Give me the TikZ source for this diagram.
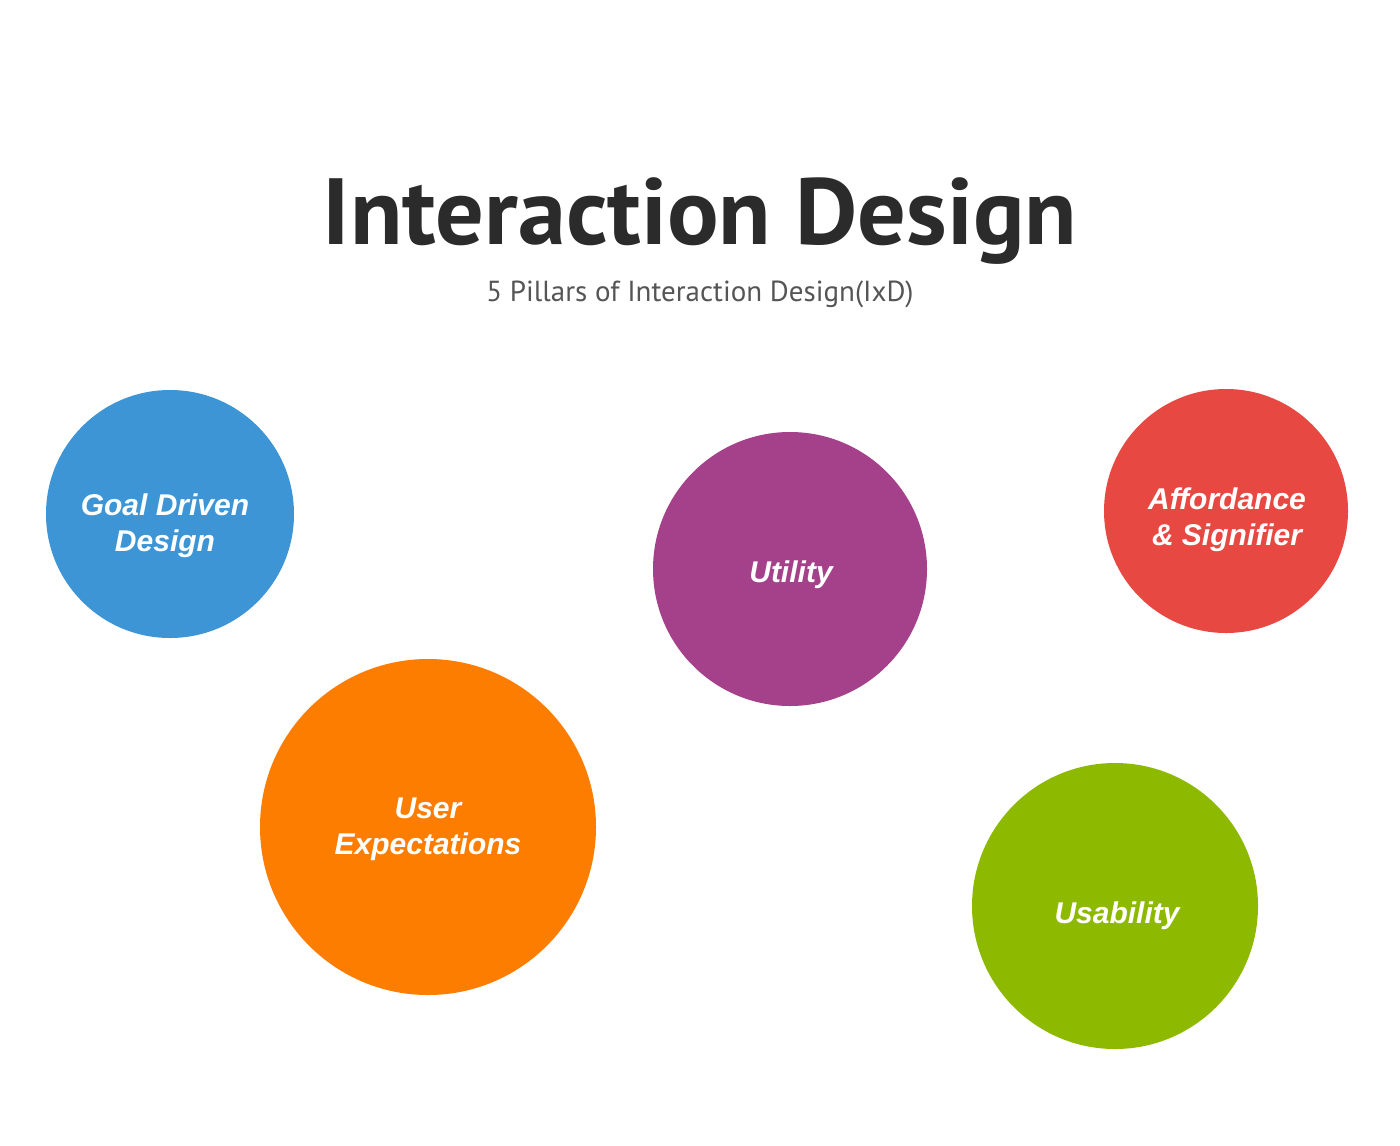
\documentclass[tikz,border=0pt]{standalone}
\usepackage{fontspec}
\setmainfont{Liberation Sans}
\newfontfamily\titlefont{PT Sans}
\definecolor{cblue}{HTML}{3D95D5}
\definecolor{corange}{HTML}{FC7D00}
\definecolor{cpurple}{HTML}{A5418A}
\definecolor{cred}{HTML}{E84842}
\definecolor{cgreen}{HTML}{8DB900}
\definecolor{ctitle}{HTML}{2B2B2B}
\definecolor{csub}{HTML}{555555}
\begin{document}
\begin{tikzpicture}[x=0.5pt,y=-0.5pt,
  pillar/.style={circle, inner sep=0pt, draw=none},
  lbl/.style={text=white, font=\fontsize{15}{18}\selectfont\bfseries\itshape, align=center}]
\useasboundingbox (0,0) rectangle (1400,1145);
\fill[white] (0,0) rectangle (1400,1145);
\node[font=\titlefont\bfseries\fontsize{47}{56}\selectfont, text=ctitle] (title) at (700,221) {\scalebox{1.024}[1]{Interaction Design}};
\node[font=\titlefont\fontsize{14.5}{17}\selectfont, text=csub] (sub) at (700,294) {5 Pillars of Interaction Design(IxD)};
\node[pillar, fill=cblue, minimum size=124pt] (goal) at (170,514) {};
\node[pillar, fill=corange, minimum size=168pt] (user) at (428,827) {};
\node[pillar, fill=cpurple, minimum size=137pt] (util) at (790,569) {};
\node[pillar, fill=cred, minimum size=122pt] (aff) at (1226,511) {};
\node[pillar, fill=cgreen, minimum size=143pt] (usab) at (1115,906) {};
\node[lbl] (tgoal) at (165,526) {Goal Driven\\Design};
\node[lbl] (tuser) at (428,829) {User\\Expectations};
\node[lbl] (tutil) at (791,575) {Utility};
\node[lbl] (taff) at (1227,520) {Affordance\\\& Signifier};
\node[lbl] (tusab) at (1117,916) {Usability};
\end{tikzpicture}
\end{document}
